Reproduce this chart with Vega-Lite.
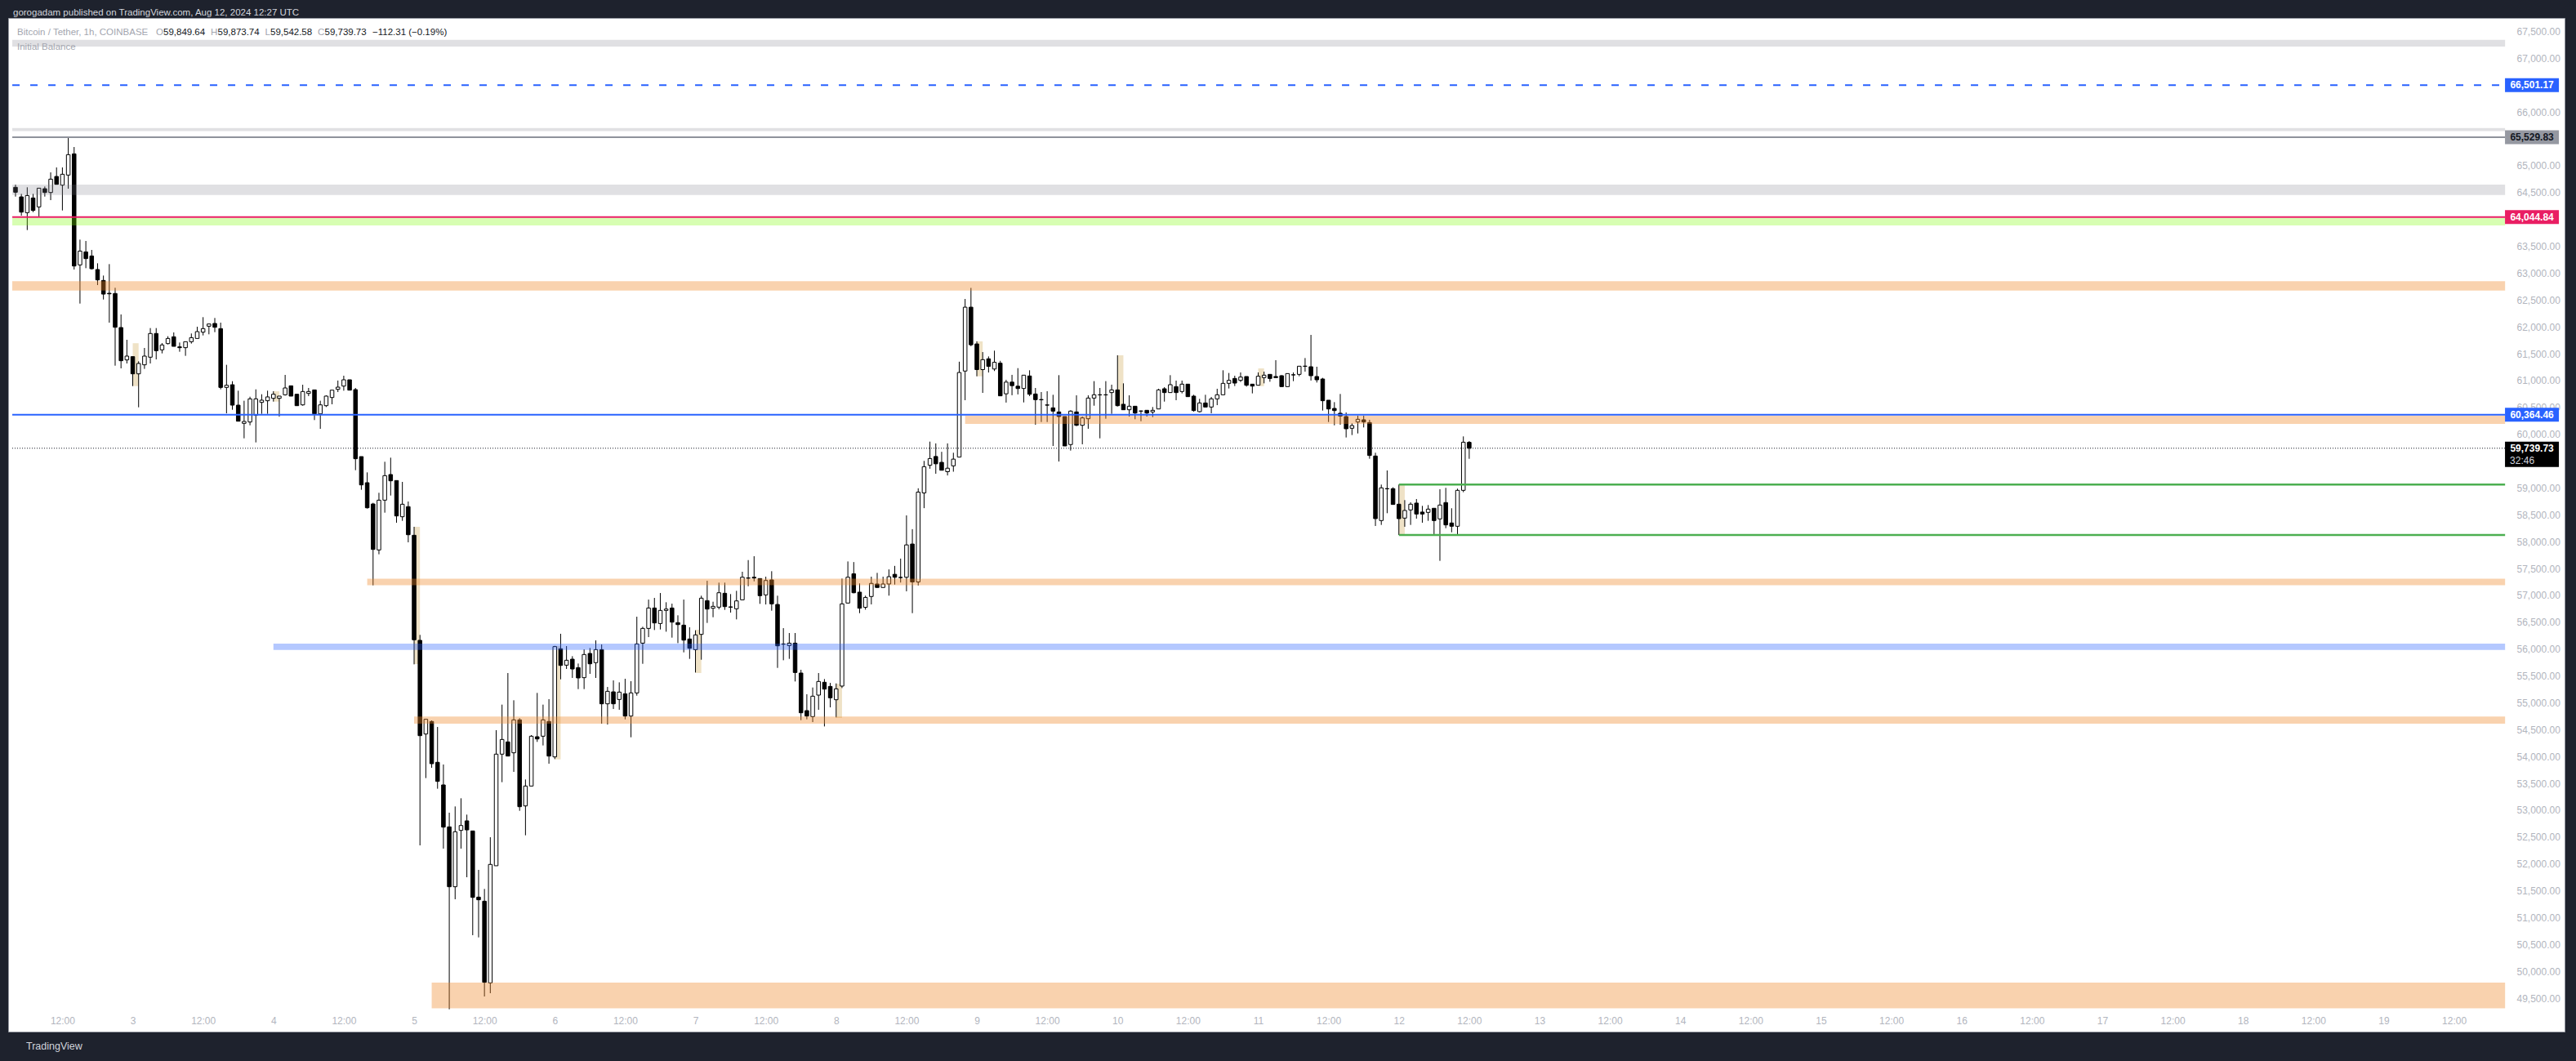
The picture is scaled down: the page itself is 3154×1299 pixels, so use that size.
{
"$schema":"https://vega.github.io/schema/vega-lite/v6.json",
"width":3130,"height":1241,
"autosize":{"type":"none"},
"padding":{"left":10,"top":22,"right":14,"bottom":36},
"background":"#1e222d",
"title":{"text":"gorogadam published on TradingView.com, Aug 12, 2024 12:27 UTC","anchor":"start","frame":"group","offset":1,"dx":6,"color":"#d1d4dc","font":"Liberation Sans","fontSize":11.5,"fontWeight":"normal"},
"config":{"view":{"fill":"#ffffff","stroke":"#9598a1","strokeWidth":1},"font":"Liberation Sans"},
"datasets":{
"candles":[
{"t":"2024-08-02T04:00Z","o":64598,"h":64648,"l":64425,"c":64506},
{"t":"2024-08-02T05:00Z","o":64420,"h":64476,"l":64070,"c":64136},
{"t":"2024-08-02T06:00Z","o":64126,"h":64598,"l":63802,"c":64445},
{"t":"2024-08-02T07:00Z","o":64400,"h":64476,"l":64136,"c":64167},
{"t":"2024-08-02T08:00Z","o":64233,"h":64582,"l":64055,"c":64582},
{"t":"2024-08-02T09:00Z","o":64572,"h":64613,"l":64425,"c":64501},
{"t":"2024-08-02T10:00Z","o":64501,"h":64876,"l":64359,"c":64750},
{"t":"2024-08-02T11:00Z","o":64800,"h":64968,"l":64653,"c":64653},
{"t":"2024-08-02T12:00Z","o":64638,"h":64968,"l":64167,"c":64841},
{"t":"2024-08-02T13:00Z","o":64826,"h":65515,"l":64572,"c":65206},
{"t":"2024-08-02T14:00Z","o":65221,"h":65348,"l":63067,"c":63133},
{"t":"2024-08-02T15:00Z","o":63153,"h":63624,"l":62433,"c":63411},
{"t":"2024-08-02T16:00Z","o":63396,"h":63599,"l":63092,"c":63270},
{"t":"2024-08-02T17:00Z","o":63320,"h":63432,"l":63067,"c":63082},
{"t":"2024-08-02T18:00Z","o":63067,"h":63183,"l":62778,"c":62874},
{"t":"2024-08-02T19:00Z","o":62864,"h":62955,"l":62509,"c":62610},
{"t":"2024-08-02T20:00Z","o":62625,"h":63168,"l":62078,"c":62615},
{"t":"2024-08-02T21:00Z","o":62621,"h":62727,"l":61277,"c":61992},
{"t":"2024-08-02T22:00Z","o":61987,"h":62231,"l":61227,"c":61369},
{"t":"2024-08-02T23:00Z","o":61384,"h":61759,"l":61318,"c":61455},
{"t":"2024-08-03T00:00Z","o":61445,"h":61445,"l":60897,"c":61125},
{"t":"2024-08-03T01:00Z","o":61125,"h":61359,"l":60502,"c":61318},
{"t":"2024-08-03T02:00Z","o":61293,"h":61607,"l":61217,"c":61455},
{"t":"2024-08-03T03:00Z","o":61435,"h":61977,"l":61318,"c":61876},
{"t":"2024-08-03T04:00Z","o":61876,"h":61977,"l":61394,"c":61556},
{"t":"2024-08-03T05:00Z","o":61572,"h":61698,"l":61506,"c":61663},
{"t":"2024-08-03T06:00Z","o":61688,"h":61825,"l":61673,"c":61784},
{"t":"2024-08-03T07:00Z","o":61815,"h":61896,"l":61637,"c":61637},
{"t":"2024-08-03T08:00Z","o":61627,"h":61708,"l":61536,"c":61612},
{"t":"2024-08-03T09:00Z","o":61612,"h":61723,"l":61460,"c":61723},
{"t":"2024-08-03T10:00Z","o":61723,"h":61876,"l":61688,"c":61799},
{"t":"2024-08-03T11:00Z","o":61784,"h":62002,"l":61784,"c":61911},
{"t":"2024-08-03T12:00Z","o":61901,"h":62180,"l":61840,"c":61967},
{"t":"2024-08-03T13:00Z","o":62012,"h":62053,"l":61861,"c":62053},
{"t":"2024-08-03T14:00Z","o":62063,"h":62165,"l":61901,"c":61992},
{"t":"2024-08-03T15:00Z","o":61967,"h":62078,"l":60836,"c":60872},
{"t":"2024-08-03T16:00Z","o":60872,"h":61293,"l":60390,"c":60912},
{"t":"2024-08-03T17:00Z","o":60922,"h":60988,"l":60456,"c":60542},
{"t":"2024-08-03T18:00Z","o":60542,"h":60811,"l":60243,"c":60243},
{"t":"2024-08-03T19:00Z","o":60203,"h":60624,"l":59924,"c":60238},
{"t":"2024-08-03T20:00Z","o":60228,"h":60699,"l":60167,"c":60659},
{"t":"2024-08-03T21:00Z","o":60355,"h":60836,"l":59848,"c":60659},
{"t":"2024-08-03T22:00Z","o":60593,"h":60745,"l":60380,"c":60634},
{"t":"2024-08-03T23:00Z","o":60624,"h":60811,"l":60380,"c":60695},
{"t":"2024-08-04T00:00Z","o":60669,"h":60801,"l":60608,"c":60745},
{"t":"2024-08-04T01:00Z","o":60669,"h":60710,"l":60329,"c":60710},
{"t":"2024-08-04T02:00Z","o":60735,"h":61105,"l":60720,"c":60862},
{"t":"2024-08-04T03:00Z","o":60902,"h":60902,"l":60710,"c":60710},
{"t":"2024-08-04T04:00Z","o":60745,"h":60745,"l":60532,"c":60532},
{"t":"2024-08-04T05:00Z","o":60547,"h":60922,"l":60532,"c":60796},
{"t":"2024-08-04T06:00Z","o":60760,"h":60862,"l":60710,"c":60796},
{"t":"2024-08-04T07:00Z","o":60826,"h":60826,"l":60264,"c":60380},
{"t":"2024-08-04T08:00Z","o":60380,"h":60624,"l":60101,"c":60547},
{"t":"2024-08-04T09:00Z","o":60532,"h":60725,"l":60507,"c":60710},
{"t":"2024-08-04T10:00Z","o":60684,"h":60821,"l":60558,"c":60821},
{"t":"2024-08-04T11:00Z","o":60836,"h":61000,"l":60786,"c":60877},
{"t":"2024-08-04T12:00Z","o":60897,"h":61090,"l":60811,"c":61014},
{"t":"2024-08-04T13:00Z","o":61014,"h":61014,"l":60821,"c":60821},
{"t":"2024-08-04T14:00Z","o":60831,"h":60862,"l":59331,"c":59544},
{"t":"2024-08-04T15:00Z","o":59584,"h":59584,"l":58966,"c":59057},
{"t":"2024-08-04T16:00Z","o":59098,"h":59290,"l":58616,"c":58631},
{"t":"2024-08-04T17:00Z","o":58702,"h":58723,"l":57187,"c":57856},
{"t":"2024-08-04T18:00Z","o":57846,"h":58910,"l":57765,"c":58773},
{"t":"2024-08-04T19:00Z","o":58773,"h":59488,"l":58540,"c":59229},
{"t":"2024-08-04T20:00Z","o":59250,"h":59564,"l":58859,"c":59133},
{"t":"2024-08-04T21:00Z","o":59138,"h":59138,"l":58353,"c":58479},
{"t":"2024-08-04T22:00Z","o":58464,"h":59113,"l":58388,"c":58697},
{"t":"2024-08-04T23:00Z","o":58652,"h":58748,"l":57988,"c":58129},
{"t":"2024-08-05T00:00Z","o":58119,"h":58277,"l":55716,"c":56173},
{"t":"2024-08-05T01:00Z","o":56163,"h":56264,"l":52345,"c":54388},
{"t":"2024-08-05T02:00Z","o":54419,"h":54693,"l":53598,"c":54693},
{"t":"2024-08-05T03:00Z","o":54652,"h":54672,"l":53790,"c":53866},
{"t":"2024-08-05T04:00Z","o":53892,"h":54550,"l":53400,"c":53537},
{"t":"2024-08-05T05:00Z","o":53471,"h":53851,"l":52285,"c":52685},
{"t":"2024-08-05T06:00Z","o":52690,"h":52954,"l":49294,"c":51575},
{"t":"2024-08-05T07:00Z","o":51575,"h":53070,"l":51342,"c":52599},
{"t":"2024-08-05T08:00Z","o":52624,"h":53222,"l":52285,"c":52715},
{"t":"2024-08-05T09:00Z","o":52802,"h":52918,"l":51752,"c":52634},
{"t":"2024-08-05T10:00Z","o":52614,"h":52614,"l":50673,"c":51377},
{"t":"2024-08-05T11:00Z","o":51382,"h":51889,"l":50632,"c":51332},
{"t":"2024-08-05T12:00Z","o":51306,"h":51534,"l":49532,"c":49796},
{"t":"2024-08-05T13:00Z","o":49785,"h":52497,"l":49593,"c":51991},
{"t":"2024-08-05T14:00Z","o":51966,"h":54490,"l":51966,"c":54044},
{"t":"2024-08-05T15:00Z","o":54044,"h":54966,"l":53522,"c":54317},
{"t":"2024-08-05T16:00Z","o":54272,"h":55554,"l":54008,"c":54008},
{"t":"2024-08-05T17:00Z","o":54069,"h":55047,"l":53714,"c":54682},
{"t":"2024-08-05T18:00Z","o":54682,"h":54713,"l":52989,"c":53065},
{"t":"2024-08-05T19:00Z","o":53080,"h":53572,"l":52533,"c":53450},
{"t":"2024-08-05T20:00Z","o":53450,"h":54398,"l":53450,"c":54378},
{"t":"2024-08-05T21:00Z","o":54368,"h":55184,"l":54272,"c":54327},
{"t":"2024-08-05T22:00Z","o":54378,"h":54966,"l":54206,"c":54682},
{"t":"2024-08-05T23:00Z","o":54652,"h":55068,"l":53866,"c":54008},
{"t":"2024-08-06T00:00Z","o":53993,"h":56060,"l":53952,"c":56046},
{"t":"2024-08-06T01:00Z","o":56006,"h":56285,"l":55437,"c":55696},
{"t":"2024-08-06T02:00Z","o":55701,"h":56056,"l":55630,"c":55792},
{"t":"2024-08-06T03:00Z","o":55812,"h":55868,"l":55463,"c":55630},
{"t":"2024-08-06T04:00Z","o":55655,"h":55731,"l":55255,"c":55463},
{"t":"2024-08-06T05:00Z","o":55468,"h":55995,"l":55255,"c":55899},
{"t":"2024-08-06T06:00Z","o":55919,"h":56020,"l":55539,"c":55726},
{"t":"2024-08-06T07:00Z","o":55747,"h":56162,"l":55463,"c":55990},
{"t":"2024-08-06T08:00Z","o":55990,"h":56086,"l":54611,"c":54981},
{"t":"2024-08-06T09:00Z","o":54981,"h":55295,"l":54596,"c":55214},
{"t":"2024-08-06T10:00Z","o":55204,"h":55417,"l":54885,"c":54981},
{"t":"2024-08-06T11:00Z","o":55062,"h":55381,"l":54870,"c":55199},
{"t":"2024-08-06T12:00Z","o":55168,"h":55447,"l":54692,"c":54753},
{"t":"2024-08-06T13:00Z","o":54753,"h":55402,"l":54358,"c":55184},
{"t":"2024-08-06T14:00Z","o":55184,"h":56603,"l":55133,"c":56096},
{"t":"2024-08-06T15:00Z","o":56111,"h":56416,"l":55726,"c":56385},
{"t":"2024-08-06T16:00Z","o":56385,"h":56922,"l":56223,"c":56765},
{"t":"2024-08-06T17:00Z","o":56765,"h":56953,"l":56355,"c":56487},
{"t":"2024-08-06T18:00Z","o":56476,"h":57044,"l":56365,"c":56720},
{"t":"2024-08-06T19:00Z","o":56720,"h":56872,"l":56324,"c":56745},
{"t":"2024-08-06T20:00Z","o":56765,"h":56846,"l":56213,"c":56502},
{"t":"2024-08-06T21:00Z","o":56492,"h":56629,"l":56111,"c":56456},
{"t":"2024-08-06T22:00Z","o":56446,"h":56922,"l":55939,"c":56167},
{"t":"2024-08-06T23:00Z","o":56188,"h":56406,"l":55818,"c":56015},
{"t":"2024-08-07T00:00Z","o":55990,"h":56350,"l":55564,"c":56264},
{"t":"2024-08-07T01:00Z","o":56274,"h":56994,"l":55802,"c":56948},
{"t":"2024-08-07T02:00Z","o":56902,"h":57272,"l":56487,"c":56745},
{"t":"2024-08-07T03:00Z","o":56760,"h":56882,"l":56593,"c":56796},
{"t":"2024-08-07T04:00Z","o":56781,"h":57237,"l":56740,"c":57049},
{"t":"2024-08-07T05:00Z","o":57039,"h":57237,"l":56730,"c":56791},
{"t":"2024-08-07T06:00Z","o":56786,"h":57024,"l":56679,"c":56780},
{"t":"2024-08-07T07:00Z","o":56750,"h":57085,"l":56553,"c":56897},
{"t":"2024-08-07T08:00Z","o":56917,"h":57440,"l":56917,"c":57338},
{"t":"2024-08-07T09:00Z","o":57325,"h":57657,"l":57171,"c":57320},
{"t":"2024-08-07T10:00Z","o":57338,"h":57729,"l":57262,"c":57323},
{"t":"2024-08-07T11:00Z","o":57313,"h":57313,"l":56842,"c":56994},
{"t":"2024-08-07T12:00Z","o":57009,"h":57348,"l":56831,"c":57277},
{"t":"2024-08-07T13:00Z","o":57288,"h":57450,"l":56715,"c":56842},
{"t":"2024-08-07T14:00Z","o":56831,"h":56994,"l":55650,"c":56061},
{"t":"2024-08-07T15:00Z","o":56096,"h":56390,"l":55792,"c":56091},
{"t":"2024-08-07T16:00Z","o":56066,"h":56299,"l":55818,"c":56111},
{"t":"2024-08-07T17:00Z","o":56111,"h":56299,"l":55397,"c":55564},
{"t":"2024-08-07T18:00Z","o":55554,"h":55615,"l":54677,"c":54814},
{"t":"2024-08-07T19:00Z","o":54854,"h":55159,"l":54692,"c":54753},
{"t":"2024-08-07T20:00Z","o":54743,"h":55285,"l":54641,"c":55123},
{"t":"2024-08-07T21:00Z","o":55143,"h":55554,"l":54870,"c":55397},
{"t":"2024-08-07T22:00Z","o":55382,"h":55442,"l":54560,"c":55255},
{"t":"2024-08-07T23:00Z","o":55305,"h":55371,"l":54915,"c":55093},
{"t":"2024-08-08T00:00Z","o":55057,"h":55361,"l":54728,"c":55260},
{"t":"2024-08-08T01:00Z","o":55311,"h":57313,"l":55275,"c":56842},
{"t":"2024-08-08T02:00Z","o":56857,"h":57632,"l":56857,"c":57338},
{"t":"2024-08-08T03:00Z","o":57402,"h":57620,"l":57039,"c":57049},
{"t":"2024-08-08T04:00Z","o":57060,"h":57223,"l":56669,"c":56761},
{"t":"2024-08-08T05:00Z","o":56778,"h":56995,"l":56734,"c":56962},
{"t":"2024-08-08T06:00Z","o":56979,"h":57348,"l":56832,"c":57223},
{"t":"2024-08-08T07:00Z","o":57212,"h":57419,"l":57147,"c":57147},
{"t":"2024-08-08T08:00Z","o":57147,"h":57348,"l":57147,"c":57212},
{"t":"2024-08-08T09:00Z","o":57212,"h":57484,"l":56995,"c":57348},
{"t":"2024-08-08T10:00Z","o":57392,"h":57549,"l":57201,"c":57337},
{"t":"2024-08-08T11:00Z","o":57335,"h":57685,"l":57239,"c":57332},
{"t":"2024-08-08T12:00Z","o":57337,"h":58489,"l":57076,"c":57940},
{"t":"2024-08-08T13:00Z","o":57956,"h":58233,"l":56669,"c":57250},
{"t":"2024-08-08T14:00Z","o":57250,"h":58994,"l":57185,"c":58923},
{"t":"2024-08-08T15:00Z","o":58907,"h":59504,"l":58624,"c":59396},
{"t":"2024-08-08T16:00Z","o":59423,"h":59863,"l":59358,"c":59548},
{"t":"2024-08-08T17:00Z","o":59586,"h":59830,"l":59265,"c":59450},
{"t":"2024-08-08T18:00Z","o":59477,"h":59673,"l":59330,"c":59330},
{"t":"2024-08-08T19:00Z","o":59303,"h":59830,"l":59233,"c":59368},
{"t":"2024-08-08T20:00Z","o":59412,"h":59656,"l":59303,"c":59537},
{"t":"2024-08-08T21:00Z","o":59575,"h":61351,"l":59575,"c":61150},
{"t":"2024-08-08T22:00Z","o":61177,"h":62519,"l":60634,"c":62366},
{"t":"2024-08-08T23:00Z","o":62366,"h":62725,"l":61639,"c":61666},
{"t":"2024-08-09T00:00Z","o":61682,"h":61731,"l":61079,"c":61204},
{"t":"2024-08-09T01:00Z","o":61204,"h":61530,"l":60770,"c":61389},
{"t":"2024-08-09T02:00Z","o":61405,"h":61449,"l":61150,"c":61264},
{"t":"2024-08-09T03:00Z","o":61215,"h":61557,"l":61177,"c":61340},
{"t":"2024-08-09T04:00Z","o":61324,"h":61367,"l":60715,"c":60715},
{"t":"2024-08-09T05:00Z","o":60753,"h":61014,"l":60590,"c":60971},
{"t":"2024-08-09T06:00Z","o":60971,"h":61106,"l":60726,"c":60905},
{"t":"2024-08-09T07:00Z","o":60895,"h":61231,"l":60742,"c":60851},
{"t":"2024-08-09T08:00Z","o":60852,"h":61100,"l":60593,"c":61100},
{"t":"2024-08-09T09:00Z","o":61085,"h":61191,"l":60710,"c":60745},
{"t":"2024-08-09T10:00Z","o":60750,"h":60862,"l":60178,"c":60644},
{"t":"2024-08-09T11:00Z","o":60646,"h":60786,"l":60228,"c":60642},
{"t":"2024-08-09T12:00Z","o":60545,"h":60801,"l":60228,"c":60542},
{"t":"2024-08-09T13:00Z","o":60492,"h":60735,"l":59782,"c":60431},
{"t":"2024-08-09T14:00Z","o":60416,"h":61100,"l":59493,"c":60330},
{"t":"2024-08-09T15:00Z","o":60330,"h":60330,"l":59782,"c":59782},
{"t":"2024-08-09T16:00Z","o":59808,"h":60446,"l":59696,"c":60431},
{"t":"2024-08-09T17:00Z","o":60416,"h":60725,"l":60152,"c":60167},
{"t":"2024-08-09T18:00Z","o":60167,"h":60330,"l":59813,"c":60304},
{"t":"2024-08-09T19:00Z","o":60289,"h":60725,"l":60102,"c":60674},
{"t":"2024-08-09T20:00Z","o":60674,"h":60989,"l":60532,"c":60735},
{"t":"2024-08-09T21:00Z","o":60735,"h":60862,"l":59924,"c":60733},
{"t":"2024-08-09T22:00Z","o":60733,"h":60989,"l":60289,"c":60735},
{"t":"2024-08-09T23:00Z","o":60776,"h":60923,"l":60380,"c":60826},
{"t":"2024-08-10T00:00Z","o":60826,"h":61470,"l":60517,"c":60532},
{"t":"2024-08-10T01:00Z","o":60558,"h":60948,"l":60456,"c":60456},
{"t":"2024-08-10T02:00Z","o":60456,"h":60725,"l":60330,"c":60522},
{"t":"2024-08-10T03:00Z","o":60522,"h":60522,"l":60279,"c":60395},
{"t":"2024-08-10T04:00Z","o":60433,"h":60441,"l":60243,"c":60431},
{"t":"2024-08-10T05:00Z","o":60446,"h":60446,"l":60330,"c":60395},
{"t":"2024-08-10T06:00Z","o":60416,"h":60507,"l":60319,"c":60446},
{"t":"2024-08-10T07:00Z","o":60471,"h":60847,"l":60471,"c":60826},
{"t":"2024-08-10T08:00Z","o":60847,"h":60877,"l":60608,"c":60776},
{"t":"2024-08-10T09:00Z","o":60776,"h":61100,"l":60776,"c":60923},
{"t":"2024-08-10T10:00Z","o":60887,"h":60999,"l":60634,"c":60776},
{"t":"2024-08-10T11:00Z","o":60796,"h":60999,"l":60761,"c":60933},
{"t":"2024-08-10T12:00Z","o":60933,"h":60933,"l":60700,"c":60700},
{"t":"2024-08-10T13:00Z","o":60710,"h":60735,"l":60421,"c":60441},
{"t":"2024-08-10T14:00Z","o":60421,"h":60659,"l":60406,"c":60583},
{"t":"2024-08-10T15:00Z","o":60583,"h":60735,"l":60507,"c":60507},
{"t":"2024-08-10T16:00Z","o":60507,"h":60695,"l":60391,"c":60659},
{"t":"2024-08-10T17:00Z","o":60659,"h":60847,"l":60542,"c":60735},
{"t":"2024-08-10T18:00Z","o":60735,"h":61191,"l":60735,"c":60948},
{"t":"2024-08-10T19:00Z","o":60948,"h":61141,"l":60852,"c":61004},
{"t":"2024-08-10T20:00Z","o":61039,"h":61090,"l":60897,"c":60953},
{"t":"2024-08-10T21:00Z","o":61004,"h":61151,"l":60973,"c":61065},
{"t":"2024-08-10T22:00Z","o":61075,"h":61075,"l":60887,"c":60913},
{"t":"2024-08-10T23:00Z","o":60933,"h":60933,"l":60761,"c":60897},
{"t":"2024-08-11T00:00Z","o":60913,"h":61151,"l":60913,"c":61080},
{"t":"2024-08-11T01:00Z","o":61055,"h":61166,"l":60948,"c":61100},
{"t":"2024-08-11T02:00Z","o":61115,"h":61115,"l":60978,"c":61039},
{"t":"2024-08-11T03:00Z","o":61075,"h":61379,"l":61055,"c":61055},
{"t":"2024-08-11T04:00Z","o":61090,"h":61100,"l":60887,"c":60887},
{"t":"2024-08-11T05:00Z","o":60887,"h":61130,"l":60887,"c":61130},
{"t":"2024-08-11T06:00Z","o":61107,"h":61151,"l":60989,"c":61105},
{"t":"2024-08-11T07:00Z","o":61115,"h":61267,"l":61080,"c":61267},
{"t":"2024-08-11T08:00Z","o":61268,"h":61419,"l":61166,"c":61266},
{"t":"2024-08-11T09:00Z","o":61257,"h":61850,"l":61000,"c":61090},
{"t":"2024-08-11T10:00Z","o":61075,"h":61257,"l":60963,"c":61014},
{"t":"2024-08-11T11:00Z","o":61029,"h":61050,"l":60441,"c":60624},
{"t":"2024-08-11T12:00Z","o":60634,"h":60634,"l":60228,"c":60471},
{"t":"2024-08-11T13:00Z","o":60481,"h":60598,"l":60167,"c":60441},
{"t":"2024-08-11T14:00Z","o":60391,"h":60750,"l":60178,"c":60340},
{"t":"2024-08-11T15:00Z","o":60330,"h":60406,"l":59940,"c":60102},
{"t":"2024-08-11T16:00Z","o":60112,"h":60203,"l":59985,"c":60162},
{"t":"2024-08-11T17:00Z","o":60228,"h":60345,"l":60015,"c":60279},
{"t":"2024-08-11T18:00Z","o":60269,"h":60345,"l":60127,"c":60228},
{"t":"2024-08-11T19:00Z","o":60218,"h":60269,"l":59544,"c":59605},
{"t":"2024-08-11T20:00Z","o":59595,"h":59656,"l":58292,"c":58429},
{"t":"2024-08-11T21:00Z","o":58393,"h":59063,"l":58312,"c":59002},
{"t":"2024-08-11T22:00Z","o":58987,"h":59326,"l":58530,"c":58985},
{"t":"2024-08-11T23:00Z","o":58987,"h":59012,"l":58693,"c":58693},
{"t":"2024-08-12T00:00Z","o":58698,"h":59063,"l":58124,"c":58429},
{"t":"2024-08-12T01:00Z","o":58439,"h":58774,"l":58277,"c":58581},
{"t":"2024-08-12T02:00Z","o":58591,"h":58733,"l":58312,"c":58698},
{"t":"2024-08-12T03:00Z","o":58718,"h":58794,"l":58429,"c":58515},
{"t":"2024-08-12T04:00Z","o":58551,"h":58667,"l":58353,"c":58515},
{"t":"2024-08-12T05:00Z","o":58545,"h":58682,"l":58388,"c":58606},
{"t":"2024-08-12T06:00Z","o":58622,"h":58622,"l":58135,"c":58393},
{"t":"2024-08-12T07:00Z","o":58424,"h":58976,"l":57643,"c":58682},
{"t":"2024-08-12T08:00Z","o":58728,"h":59002,"l":58251,"c":58312},
{"t":"2024-08-12T09:00Z","o":58348,"h":58622,"l":58175,"c":58287},
{"t":"2024-08-12T10:00Z","o":58287,"h":58987,"l":58125,"c":58956},
{"t":"2024-08-12T11:00Z","o":58956,"h":59960,"l":58921,"c":59852.04},
{"t":"2024-08-12T12:00Z","o":59849.64,"h":59873.74,"l":59542.58,"c":59739.73}
],
"fvg":[
{"from":"2024-08-03T00:00Z","to":"2024-08-03T01:00Z","lo":60897,"hi":61695},
{"from":"2024-08-04T00:00Z","to":"2024-08-04T01:00Z","lo":60608,"hi":60800},
{"from":"2024-08-05T00:00Z","to":"2024-08-05T01:00Z","lo":55720,"hi":58275},
{"from":"2024-08-06T00:00Z","to":"2024-08-06T01:00Z","lo":53946,"hi":56055},
{"from":"2024-08-07T00:00Z","to":"2024-08-07T01:00Z","lo":55555,"hi":56360},
{"from":"2024-08-08T00:00Z","to":"2024-08-08T01:00Z","lo":54718,"hi":55355},
{"from":"2024-08-09T00:00Z","to":"2024-08-09T01:00Z","lo":61079,"hi":61730},
{"from":"2024-08-10T00:00Z","to":"2024-08-10T01:00Z","lo":60532,"hi":61470},
{"from":"2024-08-11T00:00Z","to":"2024-08-11T01:00Z","lo":60896,"hi":61226},
{"from":"2024-08-12T00:00Z","to":"2024-08-12T01:00Z","lo":58124,"hi":59063}
],
"zones":[
{"from":"2024-08-02T03:27Z","lo":67220,"hi":67345,"kind":"grey"},
{"from":"2024-08-02T03:27Z","lo":65645,"hi":65700,"kind":"grey"},
{"from":"2024-08-02T03:27Z","lo":64455,"hi":64648,"kind":"grey"},
{"from":"2024-08-02T03:27Z","lo":63888,"hi":64030,"kind":"green"},
{"from":"2024-08-02T03:27Z","lo":62675,"hi":62850,"kind":"orange"},
{"from":"2024-08-08T22:00Z","lo":60192,"hi":60343,"kind":"orange"},
{"from":"2024-08-04T16:00Z","lo":57190,"hi":57311,"kind":"orange"},
{"from":"2024-08-04T00:00Z","lo":55985,"hi":56100,"kind":"blue"},
{"from":"2024-08-05T00:00Z","lo":54610,"hi":54746,"kind":"orange"},
{"from":"2024-08-05T03:00Z","lo":49310,"hi":49790,"kind":"orange"}
],
"lines":[
{"from":"2024-08-02T03:27Z","p":66501.17,"kind":"dash"},
{"from":"2024-08-02T03:27Z","p":65529.83,"kind":"grey"},
{"from":"2024-08-02T03:27Z","p":64044.84,"kind":"red"},
{"from":"2024-08-02T03:27Z","p":60364.46,"kind":"blue"},
{"from":"2024-08-02T03:27Z","p":59739.73,"kind":"last"},
{"from":"2024-08-12T00:00Z","p":59063,"kind":"green"},
{"from":"2024-08-12T00:00Z","p":58124,"kind":"green"}
],
"tags":[
{"p":66501.17,"kind":"blue"},
{"p":65529.83,"kind":"grey"},
{"p":64044.84,"kind":"red"},
{"p":60364.46,"kind":"blue"}
]
},
"layer":[
{"data":{"name":"fvg"},"mark":{"type":"rect","color":"#efe2c6","opacity":1},
 "encoding":{
  "x":{"field":"from","type":"temporal","title":null,"scale":{"type":"utc","domain":[{"year":2024,"month":8,"date":2,"hours":3,"minutes":26,"seconds":40,"utc":true},{"year":2024,"month":8,"date":20,"hours":6,"minutes":10,"utc":true}]},
   "axis":{"title":null,"orient":"bottom","offset":-22,"domain":false,"ticks":false,"grid":false,"labelPadding":3,"labelFont":"Liberation Sans","labelFontSize":12,"labelColor":"#b2b5be","labelFlush":false,"labelOverlap":false,"tickCount":36,"labelExpr":"utchours(datum.value) == 12 ? '12:00' : (utcdate(datum.value) == 20 ? '' : utcFormat(datum.value, '%-d'))"}},
  "x2":{"field":"to"},
  "y":{"field":"lo","type":"quantitative","title":null,"scale":{"domain":[48878,67751],"zero":false,"nice":false},
   "axis":{"title":null,"orient":"right","offset":-68,"domain":false,"ticks":false,"grid":false,"labelPadding":9,"labelAlign":"left","labelBaseline":"middle","labelFont":"Liberation Sans","labelFontSize":12,"labelColor":"#b2b5be","format":",.2f","labelOverlap":false,"labelFlush":false,"tickCount":200,
   "values":[49500,50000,50500,51000,51500,52000,52500,53000,53500,54000,54500,55000,55500,56000,56500,57000,57500,58000,58500,59000,60000,60500,61000,61500,62000,62500,63000,63500,64500,65000,66000,67000,67500]}},
  "y2":{"field":"hi"}}},
{"data":{"name":"candles"},"mark":{"type":"rule","color":"#000000","strokeWidth":1,"opacity":1},
 "encoding":{"x":{"field":"t","type":"temporal","title":null},"y":{"field":"l","type":"quantitative","title":null},"y2":{"field":"h"}}},
{"data":{"name":"candles"},"mark":{"type":"bar","width":4.5,"stroke":"#000000","strokeWidth":1,"opacity":1},
 "encoding":{"x":{"field":"t","type":"temporal","title":null},"y":{"field":"o","type":"quantitative","title":null},"y2":{"field":"c"},
  "fill":{"condition":{"test":"datum.c >= datum.o","value":"#ffffff"},"value":"#000000"}}},
{"data":{"name":"zones"},"mark":{"type":"rect"},
 "encoding":{"x":{"field":"from","type":"temporal","title":null},"x2":{"datum":{"year":2024,"month":8,"date":19,"hours":20,"minutes":43,"utc":true}},
  "y":{"field":"lo","type":"quantitative","title":null},"y2":{"field":"hi"},
  "color":{"condition":[{"test":"datum.kind == 'orange'","value":"#f08a2a"},{"test":"datum.kind == 'grey'","value":"#787b86"},{"test":"datum.kind == 'blue'","value":"#2962ff"}],"value":"#7cfc00"},
  "opacity":{"condition":[{"test":"datum.kind == 'orange'","value":0.38},{"test":"datum.kind == 'grey'","value":0.23},{"test":"datum.kind == 'blue'","value":0.35}],"value":0.3}}},
{"data":{"name":"lines"},"mark":{"type":"rule"},
 "encoding":{"x":{"field":"from","type":"temporal","title":null},"x2":{"datum":{"year":2024,"month":8,"date":19,"hours":20,"minutes":43,"utc":true}},
  "y":{"field":"p","type":"quantitative","title":null},
  "color":{"condition":[{"test":"datum.kind == 'dash' || datum.kind == 'blue'","value":"#2962ff"},{"test":"datum.kind == 'grey'","value":"#8f929b"},{"test":"datum.kind == 'red'","value":"#e91e63"},{"test":"datum.kind == 'last'","value":"#131722"}],"value":"#4caf50"},
  "strokeDash":{"condition":[{"test":"datum.kind == 'dash'","value":[9,13]},{"test":"datum.kind == 'last'","value":[1,2]}],"value":[1,0]},
  "strokeWidth":{"condition":[{"test":"datum.kind == 'last'","value":1},{"test":"datum.kind == 'green'","value":2.5}],"value":2}}},
{"data":{"name":"tags"},"mark":{"type":"tick","orient":"horizontal","size":66,"thickness":17,"opacity":1},
 "encoding":{"x":{"datum":{"year":2024,"month":8,"date":20,"hours":1,"minutes":18,"utc":true},"type":"temporal"},
  "y":{"field":"p","type":"quantitative","title":null},
  "color":{"condition":[{"test":"datum.kind == 'blue'","value":"#2962ff"},{"test":"datum.kind == 'grey'","value":"#9598a1"}],"value":"#e91e63"}}},
{"data":{"name":"tags"},"mark":{"type":"text","font":"Liberation Sans","fontSize":12,"fontWeight":"bold","align":"center","baseline":"middle"},
 "encoding":{"x":{"datum":{"year":2024,"month":8,"date":20,"hours":1,"minutes":18,"utc":true},"type":"temporal"},
  "y":{"field":"p","type":"quantitative","title":null},
  "text":{"field":"p","type":"quantitative","format":",.2f"},
  "color":{"condition":{"test":"datum.kind == 'grey'","value":"#131722"},"value":"#ffffff"}}},
{"data":{"values":[{"p":59739.73}]},"mark":{"type":"tick","orient":"horizontal","size":66,"thickness":31,"yOffset":7.5,"color":"#000000","opacity":1},
 "encoding":{"x":{"datum":{"year":2024,"month":8,"date":20,"hours":1,"minutes":18,"utc":true},"type":"temporal"},"y":{"field":"p","type":"quantitative","title":null}}},
{"data":{"values":[{"p":59739.73}]},"mark":{"type":"text","font":"Liberation Sans","fontSize":12,"fontWeight":"bold","align":"center","baseline":"middle","color":"#ffffff"},
 "encoding":{"x":{"datum":{"year":2024,"month":8,"date":20,"hours":1,"minutes":18,"utc":true},"type":"temporal"},"y":{"field":"p","type":"quantitative","title":null},"text":{"field":"p","type":"quantitative","format":",.2f"}}},
{"data":{"values":[{"p":59739.73}]},"mark":{"type":"text","font":"Liberation Sans","fontSize":12,"align":"left","baseline":"middle","color":"#d1d4dc","dy":15,"dx":-27},
 "encoding":{"x":{"datum":{"year":2024,"month":8,"date":20,"hours":1,"minutes":18,"utc":true},"type":"temporal"},"y":{"field":"p","type":"quantitative","title":null},"text":{"value":"32:46"}}},
{"data":{"values":[{}]},"mark":{"type":"text","font":"Liberation Sans","fontSize":11.5,"align":"left","baseline":"middle","color":"#a3a6af","dx":6},
 "encoding":{"x":{"datum":{"year":2024,"month":8,"date":2,"hours":3,"minutes":26,"seconds":40,"utc":true},"type":"temporal"},"y":{"datum":67477,"type":"quantitative"},"text":{"value":"Bitcoin / Tether, 1h, COINBASE"}}},
{"data":{"values":[{}]},"mark":{"type":"text","font":"Liberation Sans","fontSize":11.5,"align":"left","baseline":"middle","color":"#a3a6af","dx":176},
 "encoding":{"x":{"datum":{"year":2024,"month":8,"date":2,"hours":3,"minutes":26,"seconds":40,"utc":true},"type":"temporal"},"y":{"datum":67477,"type":"quantitative"},"text":{"value":"O"}}},
{"data":{"values":[{}]},"mark":{"type":"text","font":"Liberation Sans","fontSize":11.5,"align":"left","baseline":"middle","color":"#131722","dx":185},
 "encoding":{"x":{"datum":{"year":2024,"month":8,"date":2,"hours":3,"minutes":26,"seconds":40,"utc":true},"type":"temporal"},"y":{"datum":67477,"type":"quantitative"},"text":{"value":"59,849.64"}}},
{"data":{"values":[{}]},"mark":{"type":"text","font":"Liberation Sans","fontSize":11.5,"align":"left","baseline":"middle","color":"#a3a6af","dx":243},
 "encoding":{"x":{"datum":{"year":2024,"month":8,"date":2,"hours":3,"minutes":26,"seconds":40,"utc":true},"type":"temporal"},"y":{"datum":67477,"type":"quantitative"},"text":{"value":"H"}}},
{"data":{"values":[{}]},"mark":{"type":"text","font":"Liberation Sans","fontSize":11.5,"align":"left","baseline":"middle","color":"#131722","dx":251.5},
 "encoding":{"x":{"datum":{"year":2024,"month":8,"date":2,"hours":3,"minutes":26,"seconds":40,"utc":true},"type":"temporal"},"y":{"datum":67477,"type":"quantitative"},"text":{"value":"59,873.74"}}},
{"data":{"values":[{}]},"mark":{"type":"text","font":"Liberation Sans","fontSize":11.5,"align":"left","baseline":"middle","color":"#a3a6af","dx":309.5},
 "encoding":{"x":{"datum":{"year":2024,"month":8,"date":2,"hours":3,"minutes":26,"seconds":40,"utc":true},"type":"temporal"},"y":{"datum":67477,"type":"quantitative"},"text":{"value":"L"}}},
{"data":{"values":[{}]},"mark":{"type":"text","font":"Liberation Sans","fontSize":11.5,"align":"left","baseline":"middle","color":"#131722","dx":316},
 "encoding":{"x":{"datum":{"year":2024,"month":8,"date":2,"hours":3,"minutes":26,"seconds":40,"utc":true},"type":"temporal"},"y":{"datum":67477,"type":"quantitative"},"text":{"value":"59,542.58"}}},
{"data":{"values":[{}]},"mark":{"type":"text","font":"Liberation Sans","fontSize":11.5,"align":"left","baseline":"middle","color":"#a3a6af","dx":374},
 "encoding":{"x":{"datum":{"year":2024,"month":8,"date":2,"hours":3,"minutes":26,"seconds":40,"utc":true},"type":"temporal"},"y":{"datum":67477,"type":"quantitative"},"text":{"value":"C"}}},
{"data":{"values":[{}]},"mark":{"type":"text","font":"Liberation Sans","fontSize":11.5,"align":"left","baseline":"middle","color":"#131722","dx":382.5},
 "encoding":{"x":{"datum":{"year":2024,"month":8,"date":2,"hours":3,"minutes":26,"seconds":40,"utc":true},"type":"temporal"},"y":{"datum":67477,"type":"quantitative"},"text":{"value":"59,739.73"}}},
{"data":{"values":[{}]},"mark":{"type":"text","font":"Liberation Sans","fontSize":11.5,"align":"left","baseline":"middle","color":"#131722","dx":441},
 "encoding":{"x":{"datum":{"year":2024,"month":8,"date":2,"hours":3,"minutes":26,"seconds":40,"utc":true},"type":"temporal"},"y":{"datum":67477,"type":"quantitative"},"text":{"value":"−112.31 (−0.19%)"}}},
{"data":{"values":[{}]},"mark":{"type":"text","font":"Liberation Sans","fontSize":11.5,"align":"left","baseline":"middle","color":"#a3a6af","dx":6},
 "encoding":{"x":{"datum":{"year":2024,"month":8,"date":2,"hours":3,"minutes":26,"seconds":40,"utc":true},"type":"temporal"},"y":{"datum":67203,"type":"quantitative"},"text":{"value":"Initial Balance"}}},
{"data":{"values":[{}]},"mark":{"type":"text","font":"Liberation Sans","fontSize":12.5,"align":"left","baseline":"middle","color":"#d1d4dc","dx":17,"dy":18},
 "encoding":{"x":{"datum":{"year":2024,"month":8,"date":2,"hours":3,"minutes":26,"seconds":40,"utc":true},"type":"temporal"},"y":{"datum":48878,"type":"quantitative"},"text":{"value":"TradingView"}}}
]
}
